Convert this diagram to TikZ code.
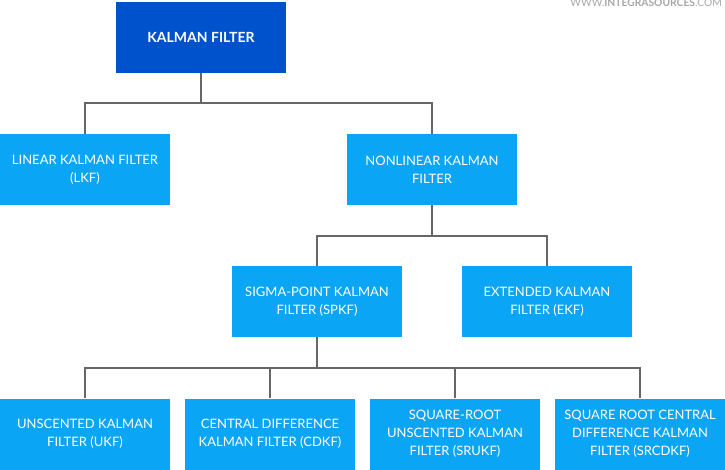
\documentclass[tikz,border=0pt]{standalone}
\usepackage{fontspec}
\setmainfont{Lato}
\usetikzlibrary{calc}
\usetikzlibrary{positioning}
\definecolor{darkblue}{HTML}{0052CC}
\definecolor{lightblue}{HTML}{0AA5F5}
\definecolor{linegray}{HTML}{666666}
\tikzstyle{kfnode} = [fill=lightblue, text=white, minimum width=170pt, minimum height=71pt, inner sep=0pt, align=center, font=\fontsize{13}{18}\selectfont]
\tikzstyle{rootnode} = [kfnode, fill=darkblue, font=\fontsize{14}{18}\selectfont\bfseries]
\tikzstyle{link} = [draw=linegray, line width=1.6pt]

\begin{document}
\begin{tikzpicture}[x=1pt, y=-1pt]
    \useasboundingbox (0,0) rectangle (725,470);
    \node[font=\fontsize{10.3}{12}\selectfont, text=gray!70, anchor=north east, inner sep=0pt] (mark) at (722,-1) {WWW.\textbf{INTEGRASOURCES}.COM};

    \node[rootnode] (kf) at (201,37.5) {KALMAN FILTER};
    \node[kfnode] (lkf) at (85,169.5) {LINEAR KALMAN FILTER\\(LKF)};
    \node[kfnode] (nkf) at (432,169.5) {NONLINEAR KALMAN\\FILTER};
    \node[kfnode] (spkf) at (317,301.5) {SIGMA-POINT KALMAN\\FILTER (SPKF)};
    \node[kfnode] (ekf) at (547,301.5) {EXTENDED KALMAN\\FILTER (EKF)};
    \node[kfnode] (ukf) at (85,434) {UNSCENTED KALMAN\\FILTER (UKF)};
    \node[kfnode] (cdkf) at (270,434) {CENTRAL DIFFERENCE\\KALMAN FILTER (CDKF)};
    \node[kfnode] (srukf) at (455,434) {SQUARE-ROOT\\UNSCENTED KALMAN\\FILTER (SRUKF)};
    \node[kfnode] (srcdkf) at (640,434) {SQUARE ROOT CENTRAL\\DIFFERENCE KALMAN\\FILTER (SRCDKF)};

    \draw[link] (kf.south) -- ++(0,30) -| (lkf.north);
    \draw[link] (kf.south) -- ++(0,30) -| (nkf.north);
    \draw[link] (nkf.south) -- ++(0,31) -| (spkf.north);
    \draw[link] (nkf.south) -- ++(0,31) -| (ekf.north);
    \foreach \leaf in {ukf, cdkf, srukf, srcdkf}
        \draw[link] (spkf.south) -- ++(0,31) -| (\leaf.north);
\end{tikzpicture}
\end{document}
